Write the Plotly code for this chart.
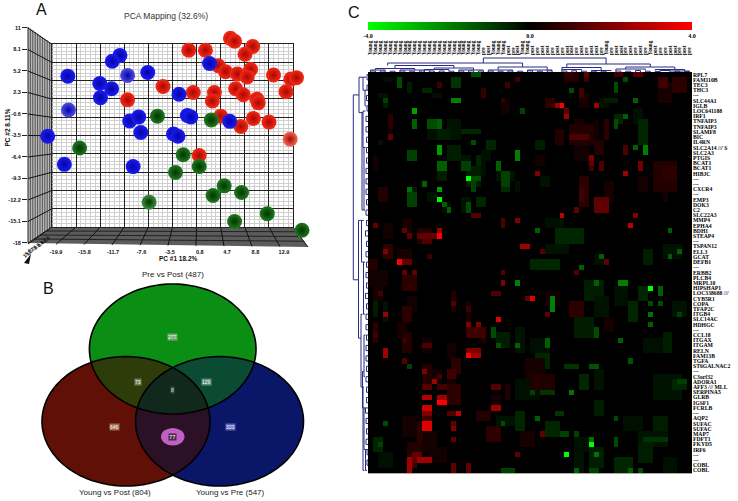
import numpy as np
import plotly.graph_objects as go

W, H = 738, 501
SANS = "Liberation Sans"
SERIF = "Liberation Serif"

# ---------- Panel A: PCA values ----------
blue_x = [-10.7,-11.8,2.2,-18.2,-9.6,-6.7,-13.6,-11.9,-13.5,-2.2,-18.1,-9.3,-8.0,-1.0,-0.5,5.1,-7.7,-3.0,-2.35,-21.1,-18.7,-8.8]
blue_y = [7.3,6.5,6.2,4.5,4.6,5.0,3.5,2.8,1.6,2.05,-0.06,-1.55,-1.0,-0.8,-1.0,-1.6,-3.1,-3.3,-3.6,-3.6,-7.4,-7.7]
red_x = [5.2,5.8,-0.8,1.6,8.4,7.3,3.45,4.5,6.2,8.1,7.6,11.4,13.9,14.7,-4.5,-0.15,2.9,5.95,7.05,13.2,9.0,9.2,2.6,-9.6,3.8,8.5,6.7,10.75,13.8,0.7]
red_y = [9.6,9.2,8.0,8.0,8.5,7.45,5.9,5.1,4.8,5.4,4.4,4.65,4.1,4.3,3.1,2.3,2.3,2.8,2.0,2.4,1.4,0.9,1.15,1.3,-0.9,-1.2,-2.3,-1.7,-4.0,-6.2]
green_x = [-5.3,2.45,-16.5,-1.6,0.7,-2.7,4.3,6.8,2.7,-6.5,10.5,5.8,15.5]
green_y = [-0.9,-1.4,-5.2,-6.1,-7.7,-8.5,-10.3,-11.2,-11.6,-12.5,-14.05,-15.1,-16.3]
blue_pale = [4, 10]
red_pale = [28]
green_pale = [9]
pc1_ticks = [-19.9,-15.8,-11.7,-7.6,-3.5,0.8,4.7,8.8,12.9]
pc2_ticks = [11,8.1,5.2,2.3,-0.6,-3.5,-6.4,-9.3,-12.2,-15.1,-18]
depth_labels = ["15.8","11.7","7.6","3.5","0.8","4.7","8.8"]

# ---------- Panel B: Venn counts ----------
venn_titles = ["Pre vs Post (487)", "Young vs Post (804)", "Young vs Pre (547)"]
only_pre_post, only_young_post, only_young_pre = 277, 646, 333
pp_yp, pp_ypre, yp_ypre, all_three = 73, 129, 77, 8

# ---------- Panel C: heatmap ----------
row_labels = ["RPL7","FAM110B","TEC3","THC3","---","SLC44A1","IGLB","LOC641188","IRF1","TNFAIP3","TNFAIP3","SLAMF8","BIC","IL4RN",
 "SLC2A14 /// S","SLC2A3","PTGIS","BCAT1","BCAT1","HIBJC","---","---","CXCR4","---","EMP3","DOK3","C2","SLC22A3","MMP4","EPHA4",
 "BDH1","STEAP4","---","TSPAN12","ELL3","GCAT","DEFB1","---","ERBB2","PLCB4","MRPL10","HIPSHAP1","LOC338688 ///","CYB5R1","COPA",
 "TFAP2C","ITGB4","SLC14AC","HDHGC","---","CCL18","ITGAX","ITGAM","RELN","FAM13B","TGFA","ST6GALNAC2","---","C3orf32","ADORA1",
 "AFF3 /// MLL","SERPINA5","GLRB","IGSF1","FCRLB","---","AQP2","SUFAC","SUFAC","MAP7","FDFT1","FKYD5","IRF6","---","---","COBL","COBL"]
column_labels = ["Young"]*23 + ["pre","post"] + ["Young"]*3 + ["post","pre","post"] + ["Young"]*2 + \
 ["post","pre","post","post","pre","post","pre","post","post","pre","post","pre","post","post","pre"] + ["Young"] + \
 ["pre","post","post","pre","post","pre","post","pre"] + ["Young"] + \
 ["post","pre","pre","post","post","pre","post","pre","post"]

# (first row, last row, first col, last col)
dim_green = [
 (1,1,3,4),(2,3,8,8),(4,4,2,3),(3,3,11,12),(4,4,13,14),(5,6,3,3),(9,12,16,18),(11,11,19,22),(10,12,12,13),(11,12,14,16),(13,13,2,2),(13,14,24,25),
 (15,16,23,24),(14,16,16,18),(16,18,19,20),(16,17,22,22),(17,19,23,23),(18,21,20,22),(19,20,26,29),(21,22,27,28),(21,22,30,30),(22,25,9,9),(24,26,19,20),
 (24,25,22,23),(25,26,15,16),(19,20,14,15),(23,24,12,13),(8,9,50,51),(7,9,54,55),(13,14,34,35),(20,21,35,36),(9,13,55,56),(5,6,47,48),(5,5,48,50),
 (33,34,36,40),(30,32,38,43),(35,36,46,47),(34,36,56,57),(33,35,60,63),(36,37,33,38),(28,29,36,39),(40,43,44,47),(43,46,46,48),(44,47,53,54),(41,44,50,52),
 (47,50,42,45),(44,46,62,64),(41,43,55,56),(51,53,33,36),(50,52,26,28),(49,53,30,31),(54,56,34,36),(51,53,56,59),(50,53,60,61),(57,60,46,47),(58,60,43,44),
 (59,62,30,34),(63,65,46,47),(58,62,58,63),(59,60,62,64),(66,68,52,55),(66,68,58,60),(69,71,55,60),(67,69,36,38),(70,72,42,44),(72,75,45,47),(73,76,42,43),
 (74,76,50,53),(74,76,60,62),(71,74,55,57),(66,67,26,29),(65,68,30,31),(73,75,2,4),(44,46,1,1),(44,47,3,3),(70,72,1,2),
]
dim_red = [
 (9,11,42,43),(10,13,41,45),(14,16,42,44),(20,25,43,44),(2,5,59,61),(17,22,58,62),(5,7,27,28),(18,20,60,62),(4,6,43,44),(13,15,46,47),(20,22,55,56),(1,3,62,64),
 (23,24,60,60),(22,24,2,3),(16,18,1,1),(8,10,4,4),(11,12,4,4),(0,1,40,42),(16,17,34,35),(5,6,36,37),(21,24,48,49),(11,13,38,39),(9,12,46,46),(9,12,48,48),
 (28,30,7,8),(30,32,10,12),(29,31,3,4),(33,35,3,4),(34,36,6,8),(36,38,0,1),(38,40,0,3),(39,41,7,9),(41,43,1,2),(42,45,17,17),(43,45,8,9),(45,47,7,8),(48,50,6,7),
 (50,53,7,8),(51,53,11,12),(48,51,1,1),(44,48,20,20),(49,51,23,23),(52,54,16,17),(55,57,17,18),(57,60,16,17),(56,60,11,12),(57,59,13,14),(60,63,16,18),(62,64,25,26),
 (60,62,28,28),(66,69,7,9),(67,70,10,10),(69,72,11,13),(71,73,8,10),(72,74,12,15),(68,70,24,26),(69,71,31,33),(65,66,22,24),(42,44,36,38),(44,46,41,43),(55,58,32,35),
 (58,60,33,37),(47,49,48,49),
]
dim_green_levels = [-0.25, -0.45, -0.3, -0.6]
dim_red_levels = [0.35, 0.55, 0.3, 0.7]
red_cells = [
 (6,6,39,39,4),(6,6,38,38,2.5),(6,6,46,46,2.5),(8,8,40,40,2.5),(7,7,40,40,1.5),(3,4,43,43,1.0),(12,12,41,44,1.2),
 (16,16,45,45,2),(17,17,45,45,1.5),(18,18,45,45,1),(17,18,47,47,1.2),(17,18,55,55,1.8),(19,19,52,52,2.5),(19,19,34,34,2),
 (14,15,52,52,1.2),(24,26,46,48,1.5),(22,24,43,43,1),(27,27,39,39,3),(26,26,42,42,1.5),(27,27,54,54,2),(29,29,53,53,3),
 (27,27,21,22,1.3),(28,29,27,27,1.2),(28,28,30,30,2),(31,31,10,13,1.5),(32,32,11,12,1.2),(30,30,14,14,2.5),(31,31,14,14,4),
 (30,30,7,7,1.5),(29,29,1,1,1.5),(31,31,8,8,1.5),(33,33,31,32,2.5),(34,34,3,3,2),(36,36,7,8,1.5),(36,36,6,6,4),(38,38,7,7,1.5),
 (38,38,9,9,1.5),(34,34,35,35,1.3),(35,35,12,12,1),(36,36,48,48,1.5),(38,38,27,27,1.3),(40,40,27,27,2),(38,38,42,42,1.2),
 (1,2,59,60,1),(12,12,4,4,1.5),(2,2,14,14,1),(3,4,23,23,0.8),(2,2,28,28,1),(1,1,30,30,1),(5,5,27,27,0.8),(0,0,44,44,1.5),
 (1,1,44,44,1),(0,0,40,41,0.8),(0,0,50,51,1),(0,0,54,55,1.3),
 (43,43,33,33,3.5),(43,43,32,32,1.5),(42,42,25,26,1.2),(44,44,17,17,1.3),(45,45,20,20,1),(46,46,3,3,2.5),(47,47,26,26,3.5),
 (48,48,20,20,2),(48,48,22,22,2),(49,50,20,23,1),(52,52,11,12,1.2),(53,54,3,3,2.5),(53,53,20,22,2),(54,54,21,22,2.5),(54,54,20,20,4),
 (55,55,7,7,1.3),(57,57,11,11,2),(59,59,13,13,2.5),(58,58,14,14,1),(57,58,16,17,1),(60,60,25,26,1.3),(60,60,11,12,1.3),(60,60,14,15,1),
 (62,62,11,12,2.8),(62,62,14,15,2.5),(63,63,14,15,4),(64,64,11,12,3.2),(65,65,11,12,2),(64,64,25,26,2.5),(65,65,18,18,3),(65,65,16,17,1.3),
 (67,67,17,17,1.5),(68,68,17,17,2),(66,66,11,12,1),(67,68,11,12,3.5),(73,74,9,10,1.5),(74,74,10,12,2.5),(74,76,8,8,2.5),(75,75,9,9,1),
 (75,76,17,17,1.5),(75,76,20,20,1.5),(70,70,17,17,1.5),(69,69,35,35,1.5),(73,73,30,30,1.5),(46,46,36,36,1.5),(51,51,7,7,1),(50,50,1,1,1),(42,42,2,2,1),
]
green_cells = [
 (7,7,9,9,-2.5),(9,10,9,9,-1.5),(9,10,12,13,-1.2),(9,10,14,14,-1.5),(14,15,14,14,-2.5),(15,16,8,9,-1),(17,18,14,15,-1.5),(20,20,20,20,-4),
 (20,20,21,22,-1.2),(21,22,21,21,-1),(22,22,14,14,-2.5),(24,24,14,14,-4),(21,21,11,11,-1.5),(22,22,8,8,-1.8),(23,25,8,9,-1),(26,26,16,16,-1.5),
 (25,25,15,15,-1.5),(17,18,19,20,-1),(25,26,20,20,-1.2),(15,16,30,30,-2),(17,18,26,26,-1.5),(19,21,27,28,-1),(5,5,17,18,-2),(5,5,54,54,-1.5),
 (14,15,56,56,-2),(14,14,54,54,-1.5),(9,10,50,50,-1.2),(1,1,52,52,-1.2),(2,3,50,50,-1.2),(3,3,41,41,-1.2),(0,0,21,22,-1.2),(13,13,21,21,-1.2),
 (1,2,6,6,-1.2),(1,2,17,18,-0.8),(5,5,3,3,-1),(8,8,52,52,-1.5),(7,7,31,31,-1),(30,30,34,34,-1.5),(30,30,61,61,-1.5),(34,34,63,63,-1.5),(35,35,61,61,-1.5),
 (35,35,47,47,-1.5),(37,37,43,43,-1.5),(40,40,51,52,-2),(40,40,46,46,-1.5),(40,40,30,30,-2),
 (41,41,57,57,-4),(41,42,59,59,-1.5),(43,45,37,37,-2),(46,46,57,57,-1.8),(48,48,57,57,-1.5),(44,44,57,57,-1.2),(44,44,59,59,-1.2),
 (71,71,45,45,-4),(70,70,45,45,-1.8),(73,73,46,46,-1.8),(73,73,40,40,-4),(51,51,51,51,-1.5),(51,52,36,36,-1.5),(52,52,30,30,-1.5),(52,52,26,26,-1.3),
 (49,50,46,46,-1.2),(56,56,8,8,-1),(56,56,40,42,-0.8),(56,56,45,46,-1.3),(61,61,41,41,-1.8),(61,61,33,33,-1),(61,61,35,37,-0.8),(66,66,34,34,-1.5),
 (67,67,27,27,-1.2),(67,67,3,3,-1.2),(66,66,50,50,-1.2),(69,69,39,40,-1),(69,69,42,42,-1),(70,71,50,50,-1.2),(70,70,56,60,-0.8),(76,76,42,42,-1.5),
 (76,76,27,29,-1),(76,76,45,46,-1),(76,76,53,53,-1.5),(76,76,55,55,-1.2),(49,50,25,25,-1.2),(55,55,53,53,-1.3),(46,46,63,63,-1),(59,59,63,64,-1),
 (65,65,38,39,-0.8),(71,71,2,2,-1),
]

# dendrograms: (left, right, top height, left leg end, right leg end), heights in pixels above the heatmap
col_links = [
 (23,48,14,9,8),(3.5,31,9,6.5,5),(40,57,8,4.5,5),(5,17,6.5,3.5,4),(1,9,3.5,2,2),(13,21,4,2.5,2),(0,3,2,1,1),(6,12,2,1,1.2),(11,16,2.5,1,1),
 (18,23,2,1,1.2),(26,36,5,2,2),(24,29,2,1,1),(32,37,2,1,1.2),(39,47,4.5,2.5,1.5),(52,62,5,3,2.5),(39,43,2.5,1,1.2),(45,49,1.5,0.8,0.8),(50,56,3,1,1.5),
 (58,64,2.5,1.5,1),(59,61,1.5,0.6,0.6),(61,65,1,0.4,0.4),(0,1,1,0,0),(2,3,1,0,0),(4,5,0.8,0,0),(6,7,1,0,0),(8,9,0.8,0,0),(10,11,1,0,0),(12,13,1,0,0),
 (14,15,1,0,0),(16,17,0.8,0,0),(18,19,1,0,0),(20,21,1.2,0,0),(22,23,1,0,0),(24,25,1,0,0),(26,27,0.8,0,0),(28,29,1,0,0),(30,31,0.8,0,0),(32,33,1.2,0,0),
 (34,35,0.8,0,0),(36,37,1.2,0,0),(39,40,1,0,0),(41,42,1.2,0,0),(43,44,0.8,0,0),(45,46,0.8,0,0),(47,48,0.8,0,0),(50,51,1,0,0),(52,53,0.8,0,0),(54,55,1.5,0,0),
 (56,57,0.8,0,0),(58,59,0.6,0,0),(62,63,0.8,0,0),(64,65,0.4,0,0),
]
row_links = [
 (3.9,39.4,14.7,9,9.5),(0.5,7.3,9,5,6),(28,50.6,9.5,6.5,7),(7.3,26,6,5,4),(0.5,3,5,2,3),(3,6,3,1,1.5),(7,14,5,2.5,3),(14,26,4,2.5,3),(28,36,6.5,4,4.5),
 (36,46,4.5,3,3),(46,60,7,5.5,5),(57,64,5.5,4,4),(60,76,5,4,3.5),(50,58,4,2.5,3),(64,72,4,2.5,2.5),(72,76,2.5,1,1),
 (0,1,1,0,0),(2,3,1,0,0),(4,5,1.5,0,0),(6,7,1,0,0),(8,9,2,0,0),(10,11,2,0,0),(12,13,1.5,0,0),(14,15,1.5,0,0),(16,17,1.5,0,0),(18,19,2,0,0),(20,21,2,0,0),(22,23,2,0,0),
 (24,25,1.5,0,0),(26,27,2,0,0),(28,29,1.5,0,0),(30,31,2.5,0,0),(32,33,1.5,0,0),(34,35,2,0,0),(36,37,1.5,0,0),(38,39,2,0,0),(40,41,1.5,0,0),(42,43,2.5,0,0),(44,45,1.5,0,0),
 (46,47,2,0,0),(48,49,2,0,0),(50,51,1.5,0,0),(52,53,2,0,0),(54,55,2,0,0),(56,57,1.5,0,0),(58,59,2,0,0),(60,61,1.5,0,0),(62,63,1.5,0,0),(64,65,2.5,0,0),(66,67,2,0,0),
 (68,69,1.5,0,0),(70,71,2,0,0),(72,73,1,0,0),(74,75,1,0,0),
]

def px(x): return x / W
def py(y): return 1 - y / H
def shade(color, pale_idx, pale, n):
    return [pale if i in pale_idx else color for i in range(n)]

fig = go.Figure()

# back wall of the 3D box: a grid-only pair of axes, drawn first so the spheres sit above it
fig.add_trace(go.Scatter(x=[0], y=[0], mode="markers", marker=dict(opacity=0), hoverinfo="skip", showlegend=False))

def spheres(x, y, color, edge, pale, pale_idx):
    fig.add_trace(go.Scatter(x=x, y=y, xaxis="x2", yaxis="y2", mode="markers", showlegend=False, cliponaxis=False,
        marker=dict(size=15, color=shade(color, pale_idx, pale, len(x)), line=dict(width=0),
                    gradient=dict(type="radial", color=edge))))

spheres(red_x, red_y, "#f52a18", "#a80800", "#f46a58", red_pale)
spheres(blue_x, blue_y, "#1c1cf0", "#0404a8", "#5050e0", blue_pale)
spheres(green_x, green_y, "#1f7a1f", "#003300", "#3f8f3f", green_pale)

# heatmap
z = np.zeros((len(row_labels), len(column_labels)))
for i, (r0, r1, c0, c1) in enumerate(dim_green):
    z[r0:r1 + 1, c0:c1 + 1] = dim_green_levels[i % len(dim_green_levels)]
for i, (r0, r1, c0, c1) in enumerate(dim_red):
    z[r0:r1 + 1, c0:c1 + 1] = dim_red_levels[i % len(dim_red_levels)]
for cells in (red_cells, green_cells):
    for r0, r1, c0, c1, v in cells:
        z[r0:r1 + 1, c0:c1 + 1] = v
cs = [[0, "rgb(0,255,0)"], [0.5, "rgb(0,0,0)"], [1, "rgb(255,0,0)"]]
fig.add_trace(go.Heatmap(z=z, xaxis="x3", yaxis="y3", zmin=-4, zmax=4, colorscale=cs, xgap=0, ygap=0, zsmooth=False,
    colorbar=dict(orientation="h", x=px(530), xanchor="center", y=py(22), yanchor="top", lenmode="pixels", len=324,
                  thicknessmode="pixels", thickness=8, outlinewidth=0, xpad=0, ypad=0, tickvals=[-4, 0, 4],
                  ticktext=["-4.0", "0.0", "4.0"], ticks="", ticklen=0, tickfont=dict(family=SERIF, size=6, color="#000", weight=700))))

def links_to_xy(links):
    a, b = [], []
    for l, r, t, hl, hr in links:
        a += [l, l, r, r, None]
        b += [hl, t, t, hr, None]
    return a, b

navy = "#2b2b85"
cx, ch = links_to_xy(col_links)
fig.add_trace(go.Scatter(x=cx, y=ch, xaxis="x4", yaxis="y4", mode="lines", line=dict(color=navy, width=1), showlegend=False))
rr, rh = links_to_xy(row_links)
fig.add_trace(go.Scatter(x=rh, y=rr, xaxis="x5", yaxis="y5", mode="lines", line=dict(color=navy, width=1), showlegend=False))

shapes = []
def seg(x0, y0, x1, y1, color, w=1):
    shapes.append(dict(type="line", xref="paper", yref="paper", layer="below", x0=px(x0), y0=py(y0), x1=px(x1), y1=py(y1), line=dict(color=color, width=w)))

# side wall
shapes.append(dict(type="path", xref="paper", yref="paper", layer="below", line=dict(width=0), fillcolor="#b8b8b8",
    path=f"M{px(28)},{py(27)} L{px(52)},{py(44)} L{px(52)},{py(227)} L{px(28)},{py(243)} Z"))
for f in (0, 0.1, 0.2, 0.3, 0.4, 0.5, 0.6, 0.7, 0.8, 0.9, 1):
    x = 28 + 24 * f
    seg(x, 27 + 17 * f, x, 243 - 16 * f, "#222" if f in (0, 1) else "#555")
for k in range(11):
    seg(28, 28 + 21.5 * k, 52, 44.3 + 18.27 * k, "#111")
# floor
shapes.append(dict(type="path", xref="paper", yref="paper", layer="below", line=dict(width=0), fillcolor="#5c5c5c",
    path=f"M{px(52)},{py(227)} L{px(293)},{py(227)} L{px(308)},{py(247)} L{px(28)},{py(243)} Z"))
for f in (0.25, 0.5, 0.75):
    seg(52 - 24 * f, 227 + 16 * f, 293 + 15 * f, 227 + 19 * f, "#222")
for i in range(11):
    seg(52 + 24.1 * i, 227, 28 + 28 * i, 244 + 0.3 * i, "#111")
shapes.append(dict(type="path", xref="paper", yref="paper", layer="below", line=dict(width=0), fillcolor="#111",
    path=f"M{px(31)},{py(254)} L{px(24)},{py(263)} L{px(29)},{py(264)} Z"))

# Venn regions: convex polygon intersections
def ellipse(cx_, cy_, rx, ry, n=180):
    t = np.linspace(0, 2 * np.pi, n, endpoint=False)
    return np.c_[cx_ + rx * np.cos(t), cy_ + ry * np.sin(t)]

def intersect(*ells):
    pts = np.vstack([ellipse(*e, n=720) for e in ells])
    for e in ells:
        pts = pts[((pts[:, 0] - e[0]) / e[2]) ** 2 + ((pts[:, 1] - e[1]) / e[3]) ** 2 <= 1.0005]
    c = pts.mean(axis=0)
    return pts[np.argsort(np.arctan2(pts[:, 1] - c[1], pts[:, 0] - c[0]))]

def poly(points, color, outline=None):
    d = "M" + " L".join(f"{px(a):.5f},{py(b):.5f}" for a, b in points) + " Z"
    shapes.append(dict(type="path", xref="paper", yref="paper", layer="below", path=d, fillcolor=color,
                       line=dict(width=1.6 if outline else 0, color=outline or "rgba(0,0,0,0)")))

T = (172.7, 349, 83.3, 65)
L = (126, 421.3, 84, 64.7)
R = (219.5, 421.3, 84, 64.7)
poly(ellipse(*L), "#601006")
poly(ellipse(*R), "#0a1668")
poly(ellipse(*T), "#0a8e14")
poly(intersect(L, R), "#2c1026")
poly(intersect(T, L), "#2e3c0a")
poly(intersect(T, R), "#0b4a33")
poly(intersect(T, L, R), "#11291c")
for e in (T, L, R):
    poly(ellipse(*e), "rgba(0,0,0,0)", "#000")
shapes.append(dict(type="circle", xref="paper", yref="paper", layer="below", x0=px(161), x1=px(184.5), y0=py(428), y1=py(445.5),
                   fillcolor="#c060c4", line=dict(width=0)))

ann = []
def text(x, y, s, size, color="#222", angle=0, family=SANS, bg=None, weight=None, anchor="center"):
    ann.append(dict(x=px(x), y=py(y), xref="paper", yref="paper", text=s, showarrow=False, xanchor=anchor, yanchor="middle",
                    font=dict(family=family, size=size, color=color, weight=weight), textangle=angle, bgcolor=bg, borderpad=0))
text(41.5, 9.5, "A", 16, "#111")
text(48, 288.5, "B", 16, "#111")
text(354, 12.5, "C", 16, "#111")
text(165.5, 16, "PCA Mapping (32.6%)", 8.5, "#333")
text(178.5, 258, "PC #1 18.2%", 6.5, "#111", weight=700)
text(7.5, 128, "PC #2 8.11%", 6.5, "#111", angle=-90, weight=700)
text(173, 274, venn_titles[0], 8, "#222")
text(114.5, 492, venn_titles[1], 8, "#222")
text(230.5, 492, venn_titles[2], 8, "#222")
text(172.7, 336.5, str(only_pre_post), 5, "#fff", bg="#6aa870")
text(137.5, 381.5, str(pp_yp), 5, "#fff", bg="#737a50")
text(206.5, 381.5, str(pp_ypre), 5, "#fff", bg="#5a8a78")
text(172.7, 390, str(all_three), 5, "#ddd", bg="#3a5045")
text(115, 426.5, str(only_young_post), 5, "#fff", bg="#a06a58")
text(230.5, 426.5, str(only_young_pre), 5, "#fff", bg="#5a62b0")
text(172.7, 436.5, str(yp_ypre), 6, "#fff", bg="#4a2a4a")
for i, s in enumerate(depth_labels):
    text(27 + 3.3 * i, 253 - 2.3 * i, s, 5, "#111", angle=-45, weight=700)

wall_axis = dict(range=[0, 10], dtick=1, tick0=0, gridcolor="#222", gridwidth=1, zeroline=False, showticklabels=False, ticks="",
                 minor=dict(dtick=0.2, showgrid=True, gridcolor="#cfcfcf", gridwidth=1), showline=True, mirror=True, linecolor="#222")
fig.update_layout(
    width=W, height=H, margin=dict(l=0, r=0, t=0, b=0), paper_bgcolor="white", plot_bgcolor="rgba(0,0,0,0)",
    showlegend=False, shapes=shapes, annotations=ann,
    xaxis=dict(domain=[px(52), px(293)], anchor="y", **wall_axis),
    yaxis=dict(domain=[py(227), py(44)], anchor="x", **wall_axis),
    xaxis2=dict(domain=[px(28), px(310)], range=[-23.93, 16.65], showgrid=False, zeroline=False, showline=False,
               tickvals=pc1_ticks, ticktext=[f"{v:g}" for v in pc1_ticks], ticks="", ticklen=0,
               tickfont=dict(family=SANS, size=5.5, color="#111", weight=700), anchor="y2"),
    yaxis2=dict(domain=[py(247), py(25)], range=[-18.55, 11.4], showgrid=False, zeroline=False, showline=False,
               tickvals=pc2_ticks, ticktext=[f"{v:g}" for v in pc2_ticks], ticks="outside", ticklen=5, tickcolor="#222",
               tickfont=dict(family=SANS, size=5.5, color="#111", weight=700), anchor="x2"),
    xaxis3=dict(domain=[px(368), px(692)], range=[-0.5, 65.5], showgrid=False, zeroline=False, showticklabels=False, ticks="",
                anchor="y3", showline=True, linecolor="#aaa"),
    yaxis3=dict(domain=[py(473), py(72)], range=[76.5, -0.5], side="right", showgrid=False, zeroline=False, anchor="x3",
                tickvals=list(range(len(row_labels))), ticktext=row_labels, ticks="",
                tickfont=dict(family=SERIF, size=5.7, color="#000", weight=700)),
    xaxis4=dict(domain=[px(368), px(692)], range=[-0.5, 65.5], showgrid=False, zeroline=False, side="top", anchor="y4",
                tickvals=list(range(len(column_labels))), ticktext=column_labels, tickangle=-90, ticks="",
                tickfont=dict(family=SERIF, size=5.3, color="#000", weight=700)),
    yaxis4=dict(domain=[py(72), py(56)], range=[0, 16], visible=False, anchor="x4"),
    xaxis5=dict(domain=[px(350), px(368)], range=[18, 0], visible=False, anchor="y5"),
    yaxis5=dict(domain=[py(473), py(72)], range=[76.5, -0.5], visible=False, anchor="x5"),
)
fig.write_html("out.html", post_script="document.body.style.margin='0';", config={"displayModeBar": False})
